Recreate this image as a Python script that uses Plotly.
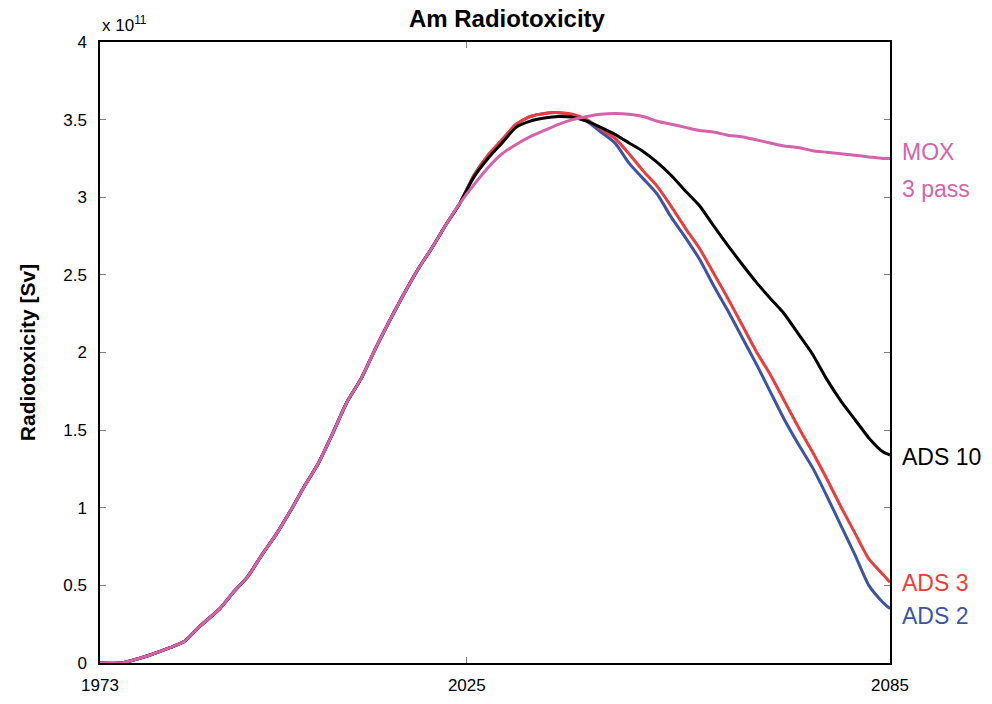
import plotly.graph_objects as go

# Common (pre-divergence) history, shared by all scenarios
years_common = [1973, 1976, 1977, 1980, 1983, 1985, 1987, 1990, 1992, 1994, 1996, 1998,
                2000, 2002, 2004, 2006, 2008, 2010, 2012, 2014, 2016, 2018, 2020, 2022, 2024]
vals_common = [0.0, 0.0, 0.01, 0.05, 0.10, 0.14, 0.23, 0.35, 0.46, 0.56, 0.70, 0.83,
               0.98, 1.14, 1.29, 1.48, 1.68, 1.83, 2.02, 2.20, 2.37, 2.53, 2.67, 2.82, 2.96]

years_future = [2026, 2028, 2030, 2032, 2034, 2036, 2038, 2040, 2042, 2044, 2046, 2048,
                2050, 2052, 2054, 2056, 2058, 2060, 2062, 2064, 2066, 2068, 2070, 2072,
                2074, 2076, 2078, 2080, 2082, 2084, 2085]

mox_future = [3.08, 3.19, 3.28, 3.34, 3.39, 3.43, 3.47, 3.50, 3.52, 3.535, 3.54, 3.535,
              3.52, 3.49, 3.47, 3.45, 3.43, 3.42, 3.40, 3.39, 3.37, 3.35, 3.33, 3.32,
              3.30, 3.29, 3.28, 3.27, 3.26, 3.25, 3.25]
ads10_future = [3.13, 3.25, 3.35, 3.45, 3.49, 3.51, 3.52, 3.515, 3.49, 3.45, 3.405, 3.35,
                3.295, 3.225, 3.14, 3.04, 2.945, 2.815, 2.69, 2.57, 2.455, 2.35, 2.25, 2.12,
                1.99, 1.83, 1.69, 1.57, 1.45, 1.36, 1.34]
ads3_future = [3.14, 3.27, 3.37, 3.47, 3.52, 3.54, 3.545, 3.535, 3.50, 3.44, 3.38, 3.28,
               3.17, 3.07, 2.94, 2.80, 2.67, 2.51, 2.35, 2.18, 2.01, 1.86, 1.69, 1.52,
               1.36, 1.19, 1.01, 0.84, 0.67, 0.57, 0.52]
ads2_future = [3.14, 3.27, 3.37, 3.47, 3.52, 3.54, 3.545, 3.53, 3.49, 3.42, 3.35, 3.22,
               3.12, 3.02, 2.87, 2.74, 2.60, 2.43, 2.27, 2.10, 1.93, 1.75, 1.57, 1.41,
               1.26, 1.08, 0.89, 0.70, 0.50, 0.39, 0.35]

x_ticks = [1973, 2025, 2085]
y_ticks = [0, 0.5, 1, 1.5, 2, 2.5, 3, 3.5, 4]
y_tick_text = ["0", "0.5", "1", "1.5", "2", "2.5", "3", "3.5", "4"]

series = [
    ("ADS 2", ads2_future, "#3A55A8"),
    ("ADS 3", ads3_future, "#EE3B3B"),
    ("ADS 10", ads10_future, "#000000"),
    ("MOX 3 pass", mox_future, "#D462AC"),
]

fig = go.Figure()
for name, fut, col in series:
    fig.add_trace(go.Scatter(
        x=years_common + years_future,
        y=vals_common + fut,
        mode="lines", name=name,
        line=dict(color=col, width=3, shape="spline", smoothing=0.6),
        showlegend=False,
    ))

font = "Liberation Sans, Arial, sans-serif"

fig.update_layout(
    width=992, height=704,
    margin=dict(l=100, r=102, t=42, b=41),
    paper_bgcolor="white", plot_bgcolor="white",
    font=dict(family=font, size=17, color="black"),
    title=dict(text="<b>Am Radiotoxicity</b>", x=0.511, xanchor="center",
               y=1 - 19 / 704, yanchor="middle", font=dict(size=24)),
    xaxis=dict(range=[1973, 2085], tickvals=x_ticks, ticktext=[str(t) for t in x_ticks],
               showline=True, linecolor="black", linewidth=1.5, mirror="ticks",
               ticks="inside", ticklen=6, tickcolor="#808080", showgrid=False, zeroline=False,
               tickfont=dict(size=17), ticklabelstandoff=6, automargin=False),
    yaxis=dict(range=[0, 4], tickvals=y_ticks, ticktext=y_tick_text,
               showline=True, linecolor="black", linewidth=1.5, mirror="ticks",
               ticks="inside", ticklen=6, tickcolor="#808080", showgrid=False, zeroline=False,
               tickfont=dict(size=17), ticklabelstandoff=8, automargin=False,
               title=dict(text="<b>Radiotoxicity [Sv]</b>", font=dict(size=21), standoff=22)),
)

labels = [
    ("MOX", 3.29, "#D462AC"),
    ("3 pass", 3.05, "#D462AC"),
    ("ADS 10", 1.33, "#000000"),
    ("ADS 3", 0.515, "#EE3B3B"),
    ("ADS 2", 0.30, "#3A55A8"),
]
for txt, yv, col in labels:
    fig.add_annotation(x=1, xref="paper", xanchor="left", xshift=10, y=yv, yref="y",
                       yanchor="middle", text=txt, showarrow=False,
                       font=dict(size=23, color=col, family=font))

fig.add_annotation(x=0, xref="paper", xanchor="left", y=1, yref="paper", yanchor="bottom",
                   yshift=5, text="x 10<sup>11</sup>", showarrow=False,
                   font=dict(size=17, family=font))

fig.write_html("out.html")
